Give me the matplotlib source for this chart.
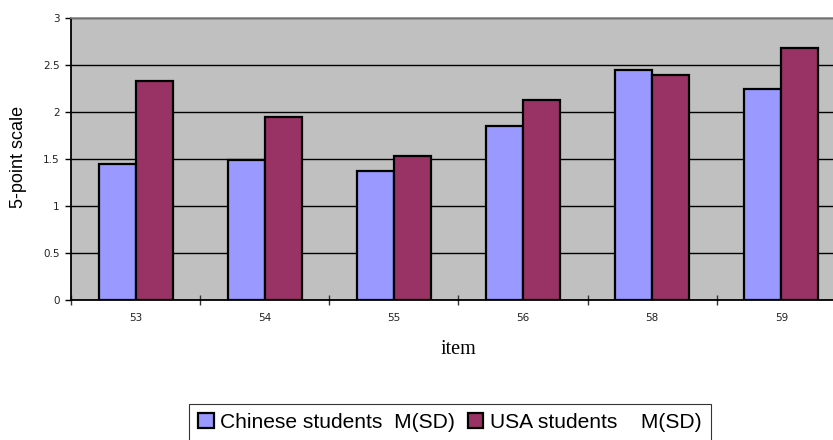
import numpy as np
import matplotlib.pyplot as plt

# Mean ratings per survey item
items = ['53', '54', '55', '56', '58', '59']
chinese = [1.45, 1.49, 1.38, 1.85, 2.45, 2.25]
usa = [2.33, 1.95, 1.54, 2.13, 2.40, 2.68]
labels = ['Chinese students  M(SD)', 'USA students    M(SD)']

fig = plt.figure(figsize=(8.33, 4.40), dpi=100)
# axes run a little past the right edge of the figure
ax = fig.add_axes([71 / 833, 1 - 300.3 / 440, 775 / 833, 282 / 440])
ax.set_facecolor('#C0C0C0')

x = np.arange(len(items))
w = 0.286
ax.bar(x - w / 2, chinese, w, color='#9999FF', edgecolor='black', linewidth=1.6,
       label=labels[0], zorder=3)
ax.bar(x + w / 2, usa, w, color='#993366', edgecolor='black', linewidth=1.6,
       label=labels[1], zorder=3)

ax.set_xlim(-0.5, len(items) - 0.5)
ax.set_ylim(0, 3)
ax.set_yticks(np.arange(0, 3.01, 0.5))
ax.set_yticklabels(['0', '0.5', '1', '1.5', '2', '2.5', '3'])
ax.yaxis.grid(True, color='black', linewidth=1.0, zorder=1)
ax.set_axisbelow(True)

# category ticks sit between the groups, labels under the groups
ax.set_xticks(np.arange(len(items) + 1) - 0.5)
ax.set_xticklabels([])
ax.set_xticks(x, minor=True)
ax.set_xticklabels(items, minor=True)
ax.tick_params(axis='x', which='major', direction='inout', length=7, width=1, color='#333333')
ax.tick_params(axis='x', which='minor', length=0, pad=9, labelsize=7.5, labelcolor='#222222')
ax.tick_params(axis='y', direction='out', length=4, width=1, pad=4,
               labelsize=7.5, labelcolor='#222222')

for side in ['left', 'bottom']:
    ax.spines[side].set_color('black')
    ax.spines[side].set_linewidth(1.3)
ax.spines['top'].set_color('#888888')
ax.spines['top'].set_linewidth(1.2)
ax.spines['right'].set_visible(False)

fig.text(19 / 833, 1 - 157 / 440, '5-point scale', rotation=90, ha='center', va='center',
         fontsize=13, family='Liberation Sans')
fig.text(458 / 833, 1 - 349 / 440, 'item', ha='center', va='center',
         fontsize=14.5, family='Liberation Serif')

leg = fig.legend(loc='upper left', bbox_to_anchor=(189 / 833, 1 - 404 / 440),
                 ncol=2, frameon=True, fancybox=False, borderaxespad=0,
                 prop={'family': 'Liberation Sans', 'size': 15.1},
                 handlelength=0.75, handleheight=0.75, handletextpad=0.32,
                 columnspacing=0.6, borderpad=0.42)
leg.get_frame().set_edgecolor('black')
leg.get_frame().set_linewidth(0.8)
for h in leg.legend_handles:
    h.set_linewidth(1.6)

fig.savefig('out.png', dpi=100)
